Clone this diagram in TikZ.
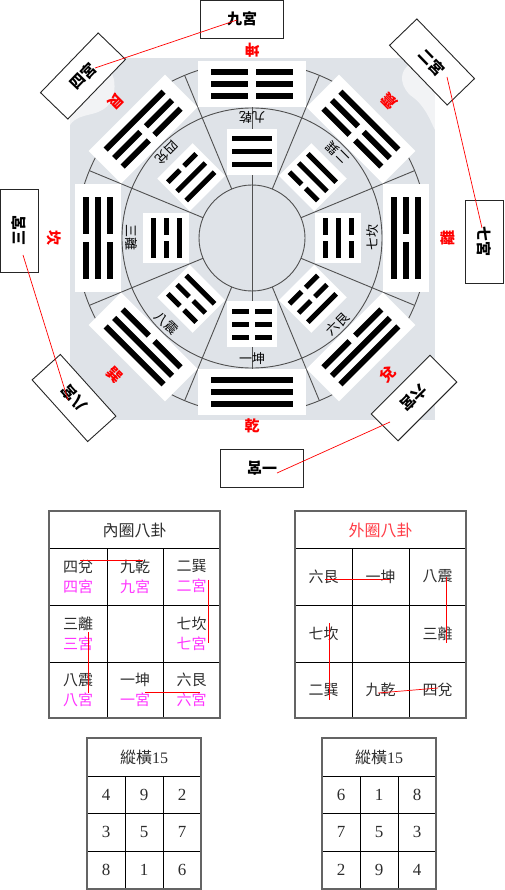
\documentclass[tikz,border=0pt]{standalone}
\usepackage{fontspec}
\usetikzlibrary{calc}
\newfontfamily\cjk{Noto Sans CJK TC}
\newfontfamily\numf{Liberation Serif}
\definecolor{bgc}{RGB}{223,227,232}
\definecolor{mag}{RGB}{255,51,255}
\definecolor{txt}{RGB}{45,45,45}
\definecolor{hdrred}{RGB}{255,60,70}
\definecolor{frm}{RGB}{100,100,100}
\definecolor{ring}{RGB}{80,80,80}
\def\trL{82}\def\trS{12}\def\trT{5.8}\def\trG{8}\def\trW{108}\def\trH{46}
\newcommand{\mytline}[2]{%
  \ifnum#2=1\relax
    \fill[black] ({-\trL/2},{#1-\trT/2}) rectangle ({\trL/2},{#1+\trT/2});
  \else
    \fill[black] ({-\trL/2},{#1-\trT/2}) rectangle ({-\trG/2},{#1+\trT/2});
    \fill[black] ({\trG/2},{#1-\trT/2}) rectangle ({\trL/2},{#1+\trT/2});
  \fi}
\newcommand{\mytrig}[5]{%
  \begin{scope}[shift={(252,-238)},rotate={#1-90}]
    \fill[white] ({-\trW/2},{#2-\trH/2}) rectangle ({\trW/2},{#2+\trH/2});
    \mytline{#2-\trS}{#3}
    \mytline{#2}{#4}
    \mytline{#2+\trS}{#5}
  \end{scope}}
\begin{document}
\begin{tikzpicture}[x=1pt,y=1pt,
  redlab/.style={text=red,font=\cjk\bfseries\fontsize{15}{15}\selectfont,inner sep=0pt},
  midlab/.style={text=black,font=\cjk\fontsize{13}{13}\selectfont,inner sep=0pt},
  gongbox/.style={draw=black!85,line width=0.9pt,fill=white,minimum width=83pt,minimum height=38pt,
    font=\cjk\bfseries\fontsize{15}{15}\selectfont,inner sep=0pt},
  link/.style={red,line width=0.7pt},
  ringline/.style={ring,line width=0.9pt},
  tgrid/.style={black,line width=0.8pt},
  tframe/.style={frm,line width=1.6pt},
  hdr/.style={font=\cjk\fontsize{16}{16}\selectfont,text=txt,inner sep=0pt},
  cell/.style={font=\cjk\fontsize{15}{20}\selectfont,text=txt,align=center,inner sep=0pt},
  num/.style={font=\numf\fontsize{17}{17}\selectfont,text=txt,inner sep=0pt}]
\useasboundingbox (0,0) rectangle (504,-890);
% ---------- background of the disc ----------
\fill[bgc] (70,-58) rectangle (435,-420);
\fill[white,opacity=0.6] (70,-58) .. controls (110,-58) and (120,-75) .. (112,-100) .. controls (100,-120) and (80,-110) .. (70,-125) -- cycle;
\fill[white,opacity=0.6] (435,-58) .. controls (400,-58) and (395,-80) .. (410,-95) .. controls (425,-105) and (430,-120) .. (435,-130) -- cycle;
\coordinate (C) at (252,-238);
\draw[ringline] (C) circle (53) (C) circle (130) (C) circle (176);
\foreach \a in {22.5,67.5,...,337.5}
  \draw[ringline] (C) ++(\a:53) -- ++(\a:123);
\draw[ringline] (252,-62) -- (252,-414);
\foreach \a in {0,45,...,315}{
  \draw[ringline] (C) ++(\a+8:169) -- ++(\a+8:7);
  \draw[ringline] (C) ++(\a-8:169) -- ++(\a-8:7);}
% ---------- outer trigrams ----------
\mytrig{90}{154}{0}{0}{0}
\mytrig{-90}{154}{1}{1}{1}
\mytrig{180}{154}{0}{1}{0}
\mytrig{0}{154}{1}{0}{1}
\mytrig{135}{154}{0}{0}{1}
\mytrig{45}{154}{0}{0}{1}
\mytrig{225}{154}{0}{1}{1}
\mytrig{-45}{154}{0}{1}{1}
% ---------- inner trigrams ----------
\def\trL{40}\def\trS{13}\def\trT{5}\def\trG{6}\def\trW{50}\def\trH{46}
\mytrig{90}{86}{1}{1}{1}
\mytrig{-90}{86}{0}{0}{0}
\mytrig{180}{86}{1}{0}{1}
\mytrig{0}{86}{0}{1}{0}
\mytrig{135}{86}{1}{1}{0}
\mytrig{45}{86}{0}{1}{1}
\mytrig{225}{86}{1}{0}{0}
\mytrig{-45}{86}{0}{0}{1}
% ---------- labels ----------
\foreach \a/\t/\n/\r in {90/坤/1/188,-90/乾/2/188,180/坎/3/198,0/離/4/196,135/艮/5/193,45/震/6/194,225/巽/7/194,-45/兌/8/192}
  \node[redlab,rotate=\a+90] (rl\n) at ($(C)+(\a:\r)$) {\t};
\foreach \a/\t/\n in {90/九乾/1,-90/一坤/2,180/三離/3,0/七坎/4,135/四兌/5,45/二巽/6,225/八震/7,-45/六艮/8}
  \node[midlab,rotate=\a+90] (ml\n) at ($(C)+(\a:121)$) {\t};
% ---------- palace boxes ----------
\node[gongbox] (g9) at (242,-19) {九宮};
\node[gongbox,rotate=180] (g1) at (262,-468) {一宮};
\node[gongbox,rotate=90] (g3) at (19,-231) {三宮};
\node[gongbox,rotate=-90] (g7) at (484,-242) {七宮};
\node[gongbox,rotate=46] (g4) at (83,-76) {四宮};
\node[gongbox,rotate=-46] (g2) at (432,-62) {二宮};
\node[gongbox,rotate=132] (g8) at (74,-398) {八宮};
\node[gongbox,rotate=-135] (g6) at (414,-398) {六宮};
\draw[link] ($(g9.center)+(-5,-1)$) -- ($(g4.center)+(12,8)$);
\draw[link] ($(g2.center)+(15,-15)$) -- ($(g7.center)+(-2,14)$);
\draw[link] ($(g3.center)+(4,-24)$) -- ($(g8.center)+(-6,-2)$);
\draw[link] ($(g6.center)+(-24,-24)$) -- ($(g1.center)+(15,-5)$);
% ---------- table 1 ----------
\draw[tgrid] (49,-548) -- (220,-548) (49,-605) -- (220,-605) (49,-662) -- (220,-662)
  (107,-548) -- (107,-718) (163,-548) -- (163,-718);
\draw[tframe] (49,-511) rectangle (220,-718);
\node[hdr] (h1) at (134.5,-530) {內圈八卦};
\node[cell] (a11) at (78,-576.5) {四兌\\\textcolor{mag}{四宮}};
\node[cell] (a12) at (135,-576.5) {九乾\\\textcolor{mag}{九宮}};
\node[cell] (a13) at (191.5,-576.5) {二巽\\\textcolor{mag}{二宮}};
\node[cell] (a21) at (78,-633.5) {三離\\\textcolor{mag}{三宮}};
\node[cell] (a23) at (191.5,-633.5) {七坎\\\textcolor{mag}{七宮}};
\node[cell] (a31) at (78,-690) {八震\\\textcolor{mag}{八宮}};
\node[cell] (a32) at (135,-690) {一坤\\\textcolor{mag}{一宮}};
\node[cell] (a33) at (191.5,-690) {六艮\\\textcolor{mag}{六宮}};
\draw[link] ($(a11.center)+(2,16.5)$) -- ($(a12.center)+(8,16.5)$);
\draw[link] ($(a13.center)+(16.5,-3.5)$) -- ($(a23.center)+(16.5,-9.5)$);
\draw[link] ($(a21.center)+(10,1.5)$) -- ($(a31.center)+(10,-3)$);
\draw[link] ($(a32.center)+(10,-2)$) -- ($(a33.center)+(8.5,-2)$);
% ---------- table 2 ----------
\draw[tgrid] (295,-548) -- (466,-548) (295,-605) -- (466,-605) (295,-662) -- (466,-662)
  (352,-548) -- (352,-718) (409,-548) -- (409,-718);
\draw[tframe] (295,-511) rectangle (466,-718);
\node[hdr,text=hdrred] (h2) at (380.5,-530) {外圈八卦};
\node[cell] (b11) at (323.5,-576.5) {六艮};
\node[cell] (b12) at (380.5,-576.5) {一坤};
\node[cell] (b13) at (437.5,-576.5) {八震};
\node[cell] (b21) at (323.5,-633.5) {七坎};
\node[cell] (b23) at (437.5,-633.5) {三離};
\node[cell] (b31) at (323.5,-690) {二巽};
\node[cell] (b32) at (380.5,-690) {九乾};
\node[cell] (b33) at (437.5,-690) {四兌};
\draw[link] ($(b11.center)+(1.5,-2.5)$) -- ($(b12.center)+(9.5,-2.5)$);
\draw[link] ($(b13.center)+(8.5,-0.5)$) -- ($(b23.center)+(8.5,-9.5)$);
\draw[link] ($(b21.center)+(5.5,10.5)$) -- ($(b31.center)+(5.5,-10)$);
\draw[link] ($(b32.center)+(-2.5,-3)$) -- ($(b33.center)+(0.5,2)$);
% ---------- table 3 ----------
\draw[tgrid] (87,-776) -- (201,-776) (87,-813) -- (201,-813) (87,-851) -- (201,-851)
  (125,-776) -- (125,-889) (163,-776) -- (163,-889);
\draw[tframe] (87,-738) rectangle (201,-889);
\node[hdr] (h3) at (144,-757) {縱橫{\numf 15}};
\foreach \v/\c/\r [count=\i] in {4/106/794.5,9/144/794.5,2/182/794.5,3/106/832,5/144/832,7/182/832,8/106/870,1/144/870,6/182/870}
  \node[num] (m\i) at (\c,-\r) {\v};
% ---------- table 4 ----------
\draw[tgrid] (322,-776) -- (436,-776) (322,-813) -- (436,-813) (322,-851) -- (436,-851)
  (360,-776) -- (360,-889) (398,-776) -- (398,-889);
\draw[tframe] (322,-738) rectangle (436,-889);
\node[hdr] (h4) at (379,-757) {縱橫{\numf 15}};
\foreach \v/\c/\r [count=\i] in {6/341/794.5,1/379/794.5,8/417/794.5,7/341/832,5/379/832,3/417/832,2/341/870,9/379/870,4/417/870}
  \node[num] (n\i) at (\c,-\r) {\v};
\end{tikzpicture}
\end{document}
